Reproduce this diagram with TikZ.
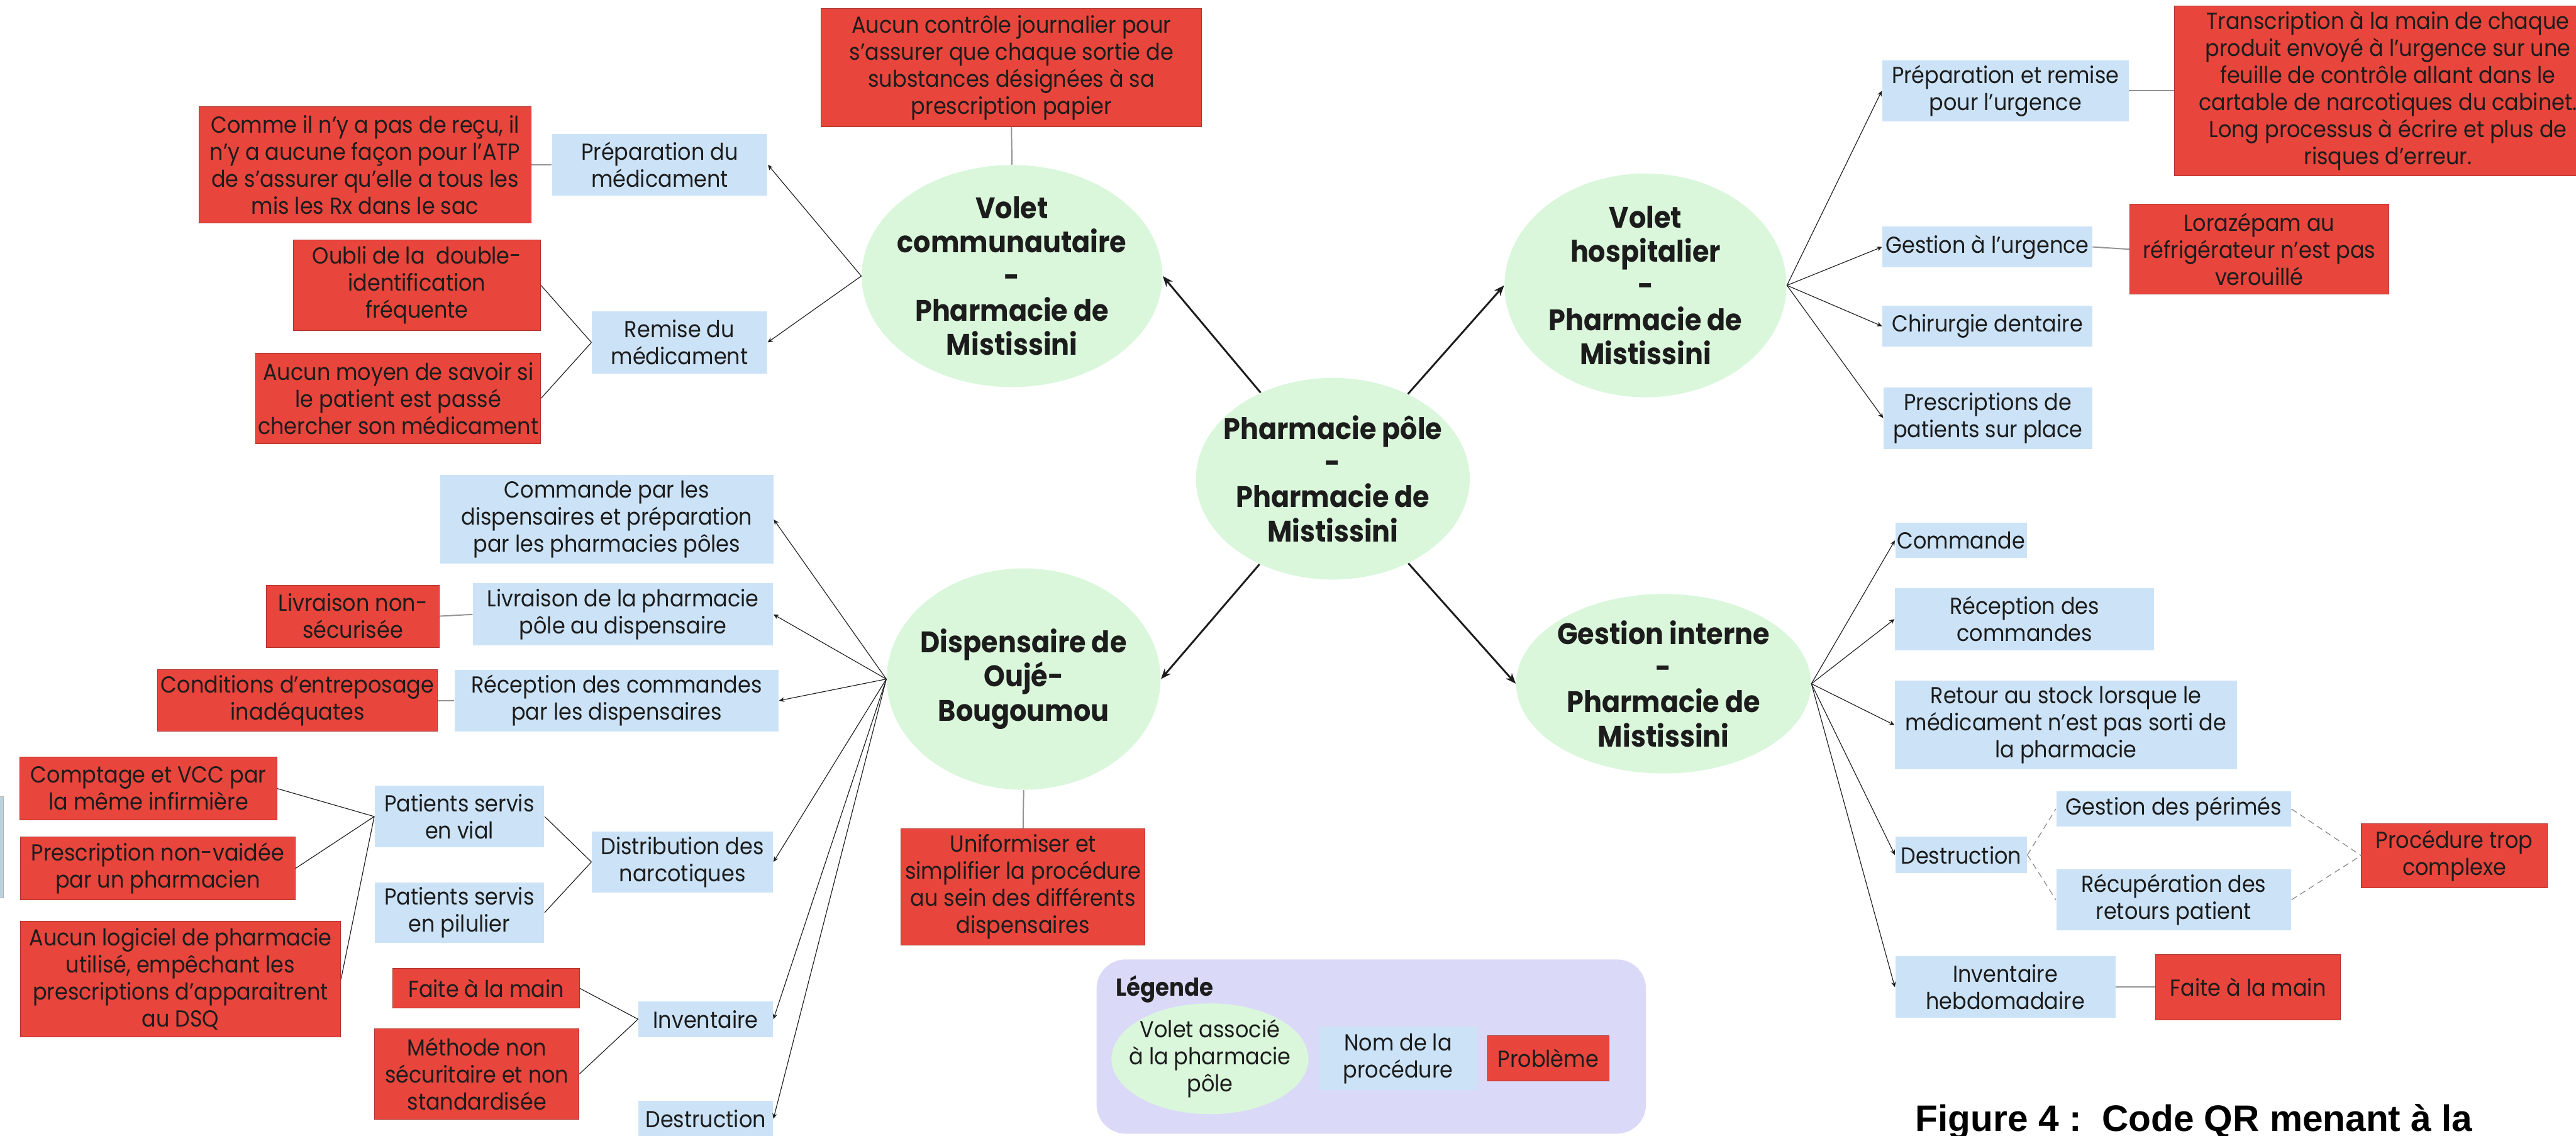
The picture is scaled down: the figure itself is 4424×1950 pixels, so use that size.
\documentclass[tikz,border=0pt]{standalone}
\usepackage{fontspec}
\setmainfont[FakeStretch=0.91]{Poppins}
\newfontfamily\capfont{Liberation Sans}
\usepackage{tikz}
\usetikzlibrary{arrows.meta,shapes.geometric,positioning}

\definecolor{voletC}{HTML}{DAF7DB}
\definecolor{procC}{HTML}{CCE3F7}
\definecolor{probC}{HTML}{E8453C}
\definecolor{legC}{HTML}{DADAF8}
\definecolor{inkC}{HTML}{1C1C1C}
\definecolor{sliverC}{HTML}{BED2DE}

\tikzset{
  volet/.style={ellipse, fill=voletC, inner sep=0pt},
  vtext/.style={align=center, text=inkC, font=\fontsize{14.5}{16.7}\selectfont\bfseries},
  ltext/.style={align=center, text=inkC, font=\fontsize{11.3}{13.2}\selectfont},
  proc/.style={rectangle, fill=procC, inner sep=0pt, align=center, text=inkC, font=\fontsize{11.3}{13.2}\selectfont},
  prob/.style={rectangle, fill=probC, draw=probC!75!black, line width=0.3pt, inner sep=0pt, align=center, text=inkC, font=\fontsize{11.3}{13.2}\selectfont},
  link/.style={draw=inkC, line width=0.35pt},
  hubline/.style={link, -{Stealth[length=0.9mm,width=0.8mm]}},
  glink/.style={draw=gray!85, line width=0.6pt},
  dlink/.style={draw=gray, line width=0.35pt, densely dashed},
  arr/.style={draw=inkC, line width=0.9pt, -{Stealth[length=1.8mm,width=1.4mm]}}
}

\begin{document}
\begin{tikzpicture}[x=0.01cm, y=-0.01cm]

  \useasboundingbox (0,0) rectangle (4424,1950);
  \begin{scope}
  \clip (0,0) rectangle (4424,1950);

  % volets
  \node[volet, minimum width=4.70cm, minimum height=3.46cm,
    label={[vtext]center:Pharmacie pôle\\-\\Pharmacie de\\Mistissini}] (pole) at (2289,822) {};
  \node[volet, minimum width=5.16cm, minimum height=3.81cm,
    label={[vtext]center:Volet\\communautaire\\-\\Pharmacie de\\Mistissini}] (comm) at (1738,474) {};
  \node[volet, minimum width=4.84cm, minimum height=3.84cm,
    label={[vtext]center:Volet\\hospitalier\\-\\Pharmacie de\\Mistissini}] (hosp) at (2826,490) {};
  \node[volet, minimum width=4.70cm, minimum height=3.80cm,
    label={[vtext]center:Dispensaire de\\Oujé-\\Bougoumou}] (disp) at (1758,1166) {};
  \node[volet, minimum width=5.06cm, minimum height=3.08cm,
    label={[vtext]center:Gestion interne\\-\\Pharmacie de\\Mistissini}] (gest) at (2857,1174) {};

  \draw[arr] (pole) -- (comm.east);
  \draw[arr] (pole) -- (hosp.west);
  \draw[arr] (pole) -- (disp.east);
  \draw[arr] (pole) -- (gest.west);

  % volet communautaire
  \node[prob, minimum width=6.53cm, minimum height=2.03cm] (jour) at (1737,116) {Aucun contrôle journalier pour\\s’assurer que chaque sortie de\\substances désignées à sa\\prescription papier};
  \node[prob, minimum width=5.69cm, minimum height=2.00cm] (recu) at (627,283) {Comme il n’y a pas de reçu, il\\n’y a aucune façon pour l’ATP\\de s’assurer qu’elle a tous les\\mis les Rx dans le sac};
  \node[proc, minimum width=3.70cm, minimum height=1.06cm] (prepmed) at (1133,283) {Préparation du\\médicament};
  \node[prob, minimum width=4.25cm, minimum height=1.55cm] (oubli) at (716,490) {Oubli de la\ \ double-\\identification\\fréquente};
  \node[prob, minimum width=4.89cm, minimum height=1.55cm] (moyen) at (684,684) {Aucun moyen de savoir si\\le patient est passé\\chercher son médicament};
  \node[proc, minimum width=3.01cm, minimum height=1.06cm] (remise) at (1167,588) {Remise du\\médicament};

  \draw[glink] (comm.north) -- (jour.south);
  \draw[hubline] (comm.west) -- (prepmed.east);
  \draw[hubline] (comm.west) -- (remise.east);
  \draw[glink] (prepmed) -- (recu);
  \draw[link] (remise.west) -- (oubli.east);
  \draw[link] (remise.west) -- (moyen.east);

  % volet hospitalier
  \node[proc, minimum width=4.23cm, minimum height=1.05cm] (prepurg) at (3444,156) {Préparation et remise\\pour l’urgence};
  \node[prob, minimum width=7.34cm, minimum height=2.92cm] (transc) at (4101,156) {Transcription à la main de chaque\\produit envoyé à l’urgence sur une\\feuille de contrôle allant dans le\\cartable de narcotiques du cabinet.\\Long processus à écrire et plus de\\risques d’erreur.};
  \node[proc, minimum width=3.60cm, minimum height=0.71cm] (gesturg) at (3413,424) {Gestion à l’urgence};
  \node[prob, minimum width=4.45cm, minimum height=1.54cm] (loraz) at (3880,428) {Lorazépam au\\réfrigérateur n’est pas\\verouillé};
  \node[proc, minimum width=3.60cm, minimum height=0.70cm] (chir) at (3413,560) {Chirurgie dentaire};
  \node[proc, minimum width=3.58cm, minimum height=1.06cm] (presc) at (3414,718) {Prescriptions de\\patients sur place};

  \draw[hubline] (hosp.east) -- (prepurg.west);
  \draw[hubline] (hosp.east) -- (gesturg.west);
  \draw[hubline] (hosp.east) -- (chir.west);
  \draw[hubline] (hosp.east) -- (presc.west);
  \draw[glink] (prepurg) -- (transc);
  \draw[glink] (gesturg.east) -- (loraz.west);

  % gestion interne
  \node[proc, minimum width=2.26cm, minimum height=0.60cm] (cmd) at (3368,928) {Commande};
  \node[proc, minimum width=4.45cm, minimum height=1.07cm] (recep) at (3477,1063) {Réception des\\commandes};
  \node[proc, minimum width=5.87cm, minimum height=1.52cm] (retour) at (3548,1245) {Retour au stock lorsque le\\médicament n’est pas sorti de\\la pharmacie};
  \node[proc, minimum width=2.26cm, minimum height=0.62cm] (destr) at (3368,1468) {Destruction};
  \node[proc, minimum width=4.03cm, minimum height=0.61cm] (perim) at (3733,1389) {Gestion des périmés};
  \node[proc, minimum width=4.03cm, minimum height=1.05cm] (recup) at (3733,1545) {Récupération des\\retours patient};
  \node[prob, minimum width=3.19cm, minimum height=1.10cm] (complexe) at (4215,1469) {Procédure trop\\complexe};
  \node[proc, minimum width=3.78cm, minimum height=1.06cm] (invhebdo) at (3444,1695) {Inventaire\\hebdomadaire};
  \node[prob, minimum width=3.17cm, minimum height=1.12cm] (mainG) at (3861,1695) {Faite à la main};

  \draw[hubline] (gest.east) -- (cmd.west);
  \draw[hubline] (gest.east) -- (recep.west);
  \draw[hubline] (gest.east) -- (retour.west);
  \draw[hubline] (gest.east) -- (destr.west);
  \draw[hubline] (gest.east) -- (invhebdo.west);
  \draw[dlink] (destr.east) -- (perim.west);
  \draw[dlink] (destr.east) -- (recup.west);
  \draw[dlink] (perim.east) -- (complexe.west);
  \draw[dlink] (recup.east) -- (complexe.west);
  \draw[glink] (invhebdo) -- (mainG);

  % dispensaire
  \node[proc, minimum width=5.72cm, minimum height=1.52cm] (cmddisp) at (1042,892) {Commande par les\\dispensaires et préparation\\par les pharmacies pôles};
  \node[proc, minimum width=5.15cm, minimum height=1.07cm] (livr) at (1070,1055) {Livraison de la pharmacie\\pôle au dispensaire};
  \node[prob, minimum width=2.96cm, minimum height=1.07cm] (nonsec) at (606,1058) {Livraison non-\\sécurisée};
  \node[proc, minimum width=5.56cm, minimum height=1.06cm] (recdisp) at (1059,1203) {Réception des commandes\\par les dispensaires};
  \node[prob, minimum width=4.81cm, minimum height=1.06cm] (entrep) at (511,1203) {Conditions d’entreposage\\inadéquates};
  \node[proc, minimum width=3.11cm, minimum height=1.05cm] (distr) at (1172,1480) {Distribution des\\narcotiques};
  \node[proc, minimum width=2.91cm, minimum height=1.05cm] (vial) at (789,1402) {Patients servis\\en vial};
  \node[proc, minimum width=2.91cm, minimum height=1.04cm] (pilul) at (789,1567) {Patients servis\\en pilulier};
  \node[prob, minimum width=4.41cm, minimum height=1.08cm] (vcc) at (255,1354) {Comptage et VCC par\\la même infirmière};
  \node[prob, minimum width=4.72cm, minimum height=1.08cm] (nonval) at (271,1491) {Prescription non-vaidée\\par un pharmacien};
  \node[prob, minimum width=5.50cm, minimum height=1.99cm] (logiciel) at (310,1681) {Aucun logiciel de pharmacie\\utilisé, empêchant les\\prescriptions d’apparaitrent\\au DSQ};
  \node[proc, minimum width=2.31cm, minimum height=0.61cm] (invdisp) at (1212,1750) {Inventaire};
  \node[prob, minimum width=3.20cm, minimum height=0.68cm] (mainD) at (835,1697) {Faite à la main};
  \node[prob, minimum width=3.51cm, minimum height=1.56cm] (methode) at (819,1844) {Méthode non\\sécuritaire et non\\standardisée};
  \node[proc, minimum width=2.31cm, minimum height=0.62cm] (destrdisp) at (1212,1921) {Destruction};
  \node[prob, minimum width=4.19cm, minimum height=1.99cm] (unif) at (1757,1523) {Uniformiser et\\simplifier la procédure\\au sein des différents\\dispensaires};

  \draw[hubline] (disp.west) -- (cmddisp.east);
  \draw[hubline] (disp.west) -- (livr.east);
  \draw[hubline] (disp.west) -- (recdisp.east);
  \draw[hubline] (disp.west) -- (distr.east);
  \draw[hubline] (disp.west) -- (invdisp.east);
  \draw[hubline] (disp.west) -- (destrdisp.east);
  \draw[glink] (livr.west) -- (nonsec.east);
  \draw[glink] (recdisp) -- (entrep);
  \draw[link] (distr.west) -- (vial.east);
  \draw[link] (distr.west) -- (pilul.east);
  \draw[link] (vial.west) -- (vcc.east);
  \draw[link] (vial.west) -- (nonval.east);
  \draw[link] (vial.west) -- (logiciel.east);
  \draw[link] (invdisp.west) -- (mainD.east);
  \draw[link] (invdisp.west) -- (methode.east);
  \draw[glink] (disp.south) -- (unif.north);

  % legende
  \node[fill=legC, rounded corners=0.5cm, minimum width=9.43cm, minimum height=2.99cm] (legende) at (2355,1797) {};
  \node[anchor=west, text=inkC, font=\fontsize{12}{14}\selectfont\bfseries] (legtitre) at (1904,1698) {Légende};
  \node[volet, minimum width=3.38cm, minimum height=1.90cm,
    label={[ltext]center:Volet associé\\à la pharmacie\\pôle}] (legvolet) at (2078,1818) {};
  \node[proc, minimum width=2.71cm, minimum height=1.08cm] (legproc) at (2401,1818) {Nom de la\\procédure};
  \node[prob, minimum width=2.09cm, minimum height=0.77cm] (legprob) at (2659,1817) {Problème};

  % bord gauche et legende de figure
  \filldraw[fill=sliverC, draw=gray!60] (-20,1368) rectangle (6,1542);
  \node[anchor=base west, inner sep=0pt, text=black, font=\capfont\bfseries\fontsize{18}{20}\selectfont] (fig) at (3289,1942) {Figure 4 :\ \ Code QR menant à la};

  \end{scope}
\end{tikzpicture}
\end{document}
